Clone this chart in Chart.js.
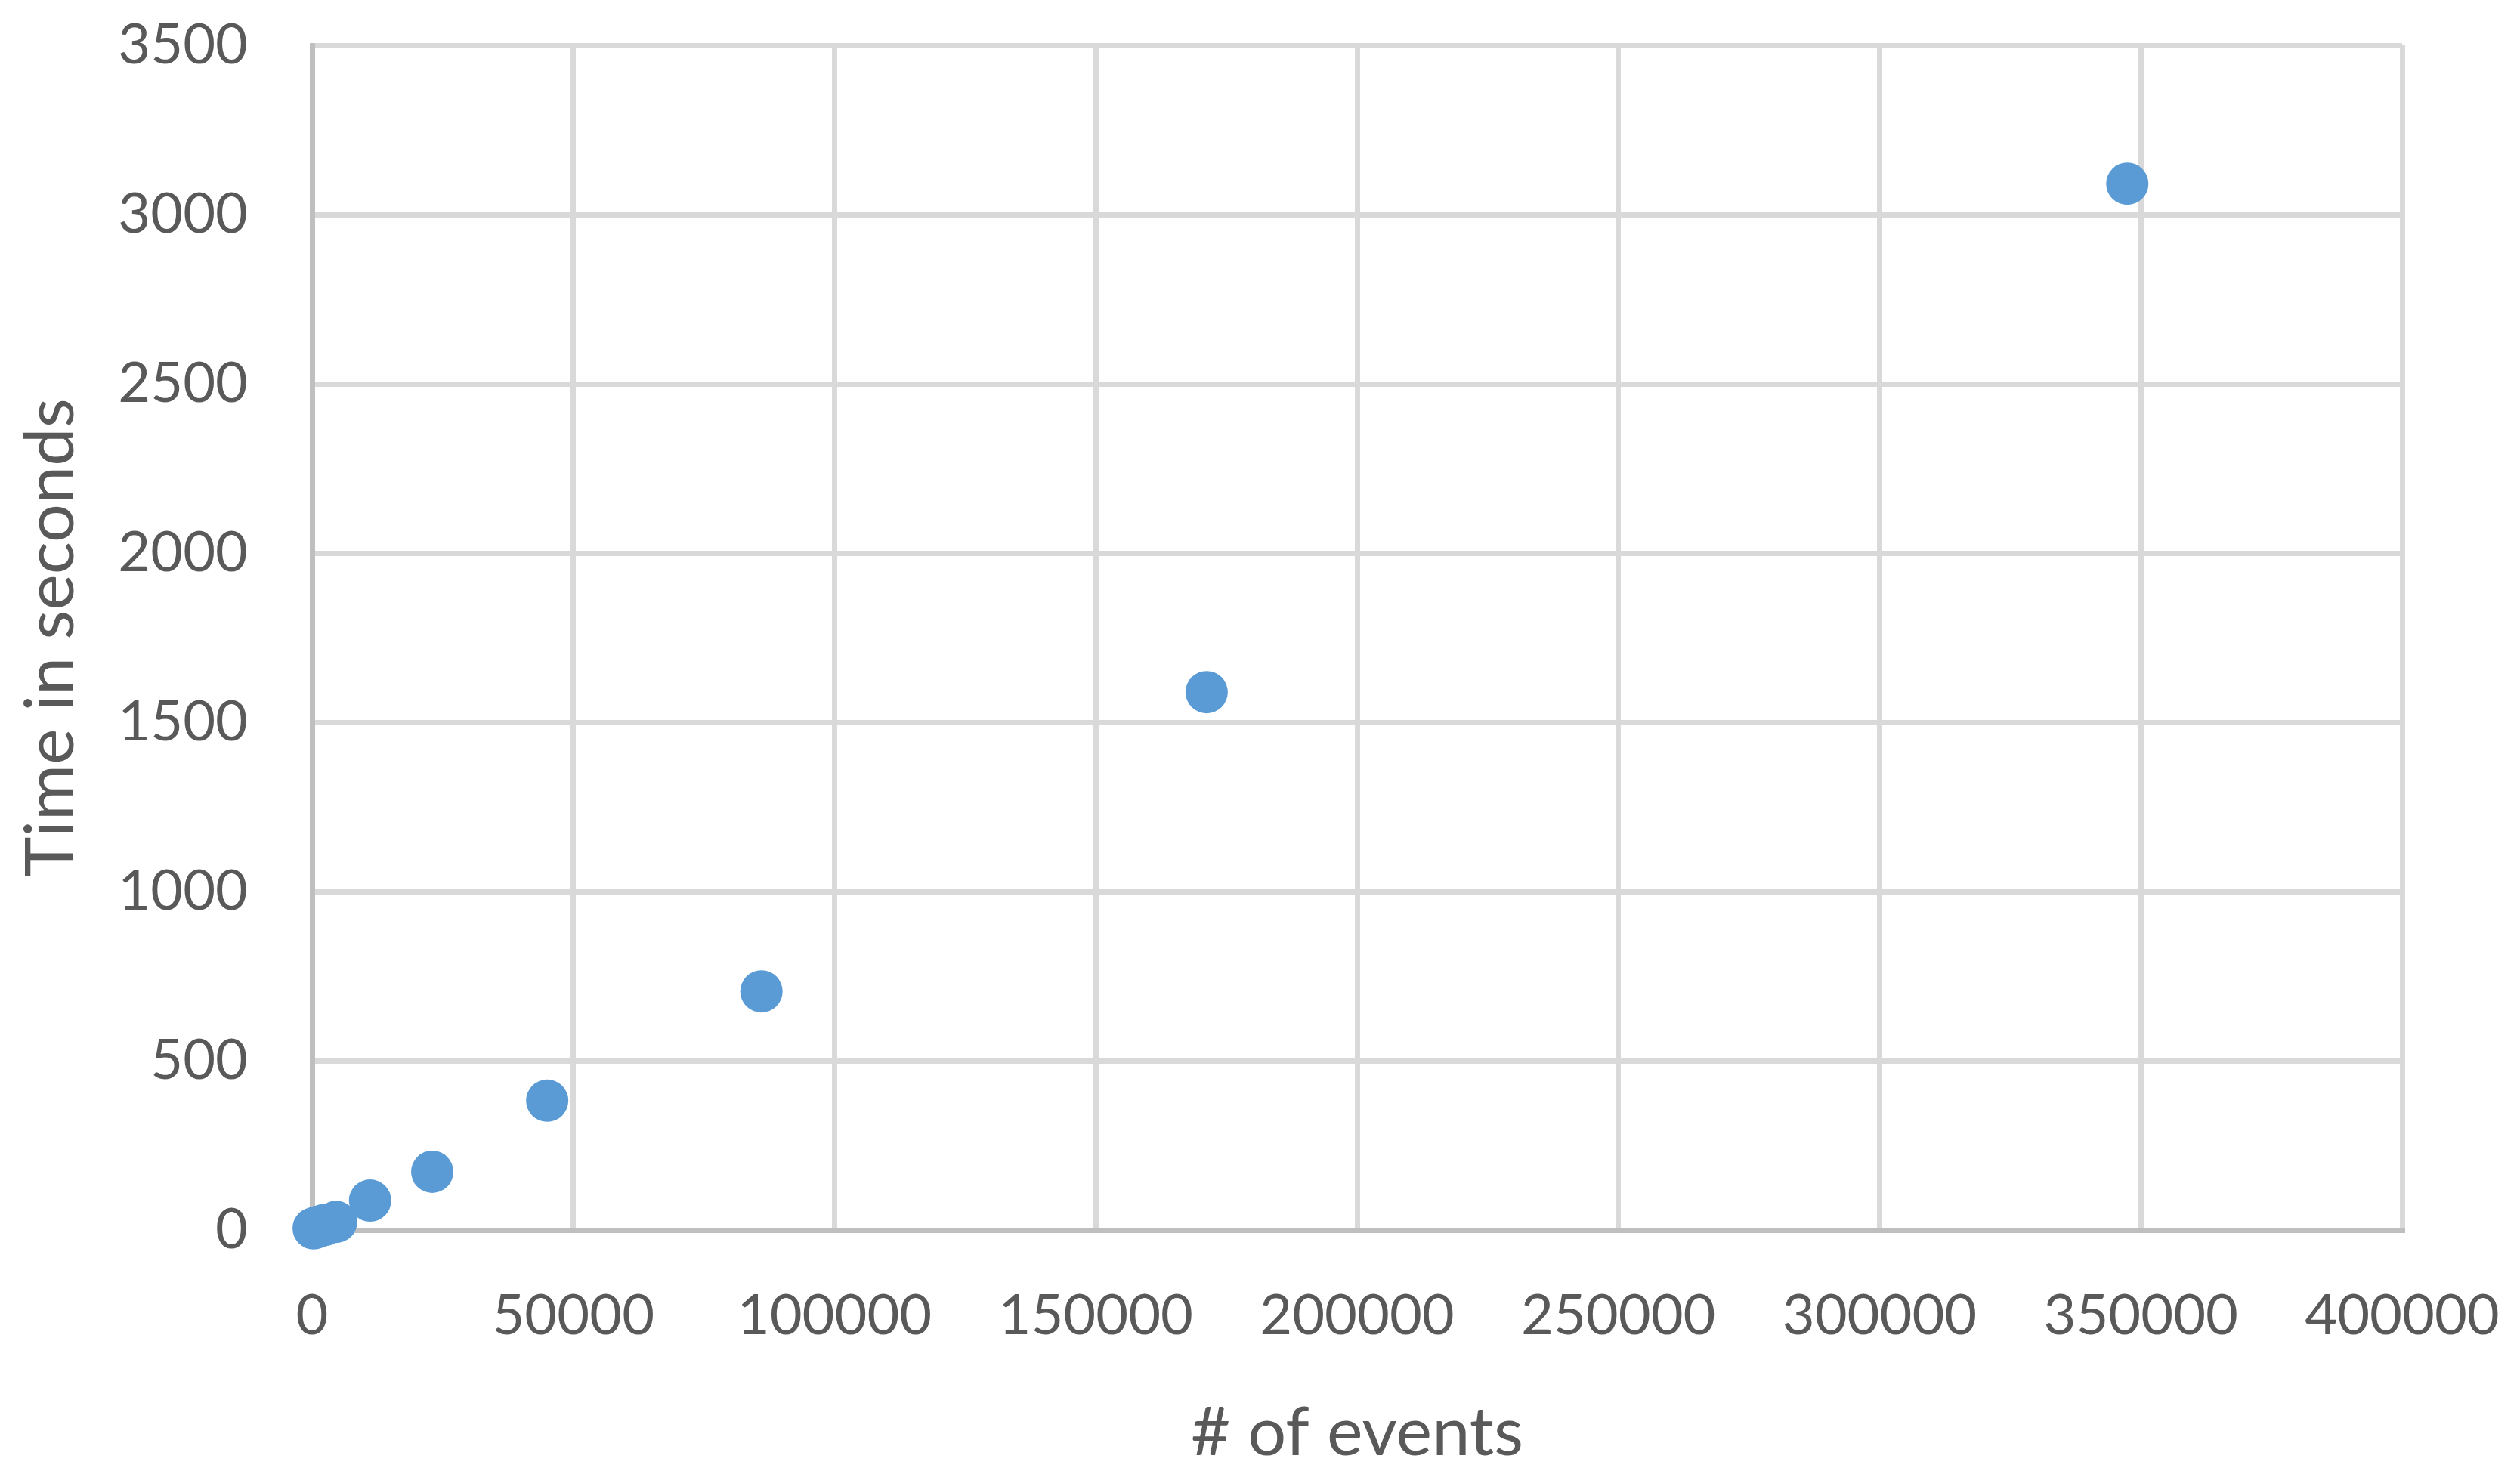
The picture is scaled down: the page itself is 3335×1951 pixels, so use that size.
<!DOCTYPE html>
<html>
<head>
<meta charset="utf-8">
<script src="https://cdn.jsdelivr.net/npm/chart.js@4.4.1/dist/chart.umd.min.js"></script>
<style>
  html, body { margin: 0; padding: 0; background: #ffffff; }
  canvas { display: block; }
</style>
</head>
<body>
<canvas id="chart" width="3335" height="1951"></canvas>
<script>
// number of events vs. run time
const events = [300, 1200, 2400, 4600, 11100, 23000, 45000, 86000, 171200, 347400];
const seconds = [5, 10, 15, 24, 87, 172, 382, 705, 1589, 3091];

const xTicks = [0, 50000, 100000, 150000, 200000, 250000, 300000, 350000, 400000];
const yTicks = [0, 500, 1000, 1500, 2000, 2500, 3000, 3500];

const xTitle = "# of events";
const yTitle = "Time in seconds";

const textColor = "#595959";
const fontFamily = "Lato, 'Open Sans', sans-serif";

const points = events.map((x, i) => ({ x: x, y: seconds[i] }));

new Chart(document.getElementById("chart"), {
  type: "scatter",
  data: {
    datasets: [
      {
        data: points,
        backgroundColor: "#5b9bd5",
        borderWidth: 0,
        pointRadius: 28,
        pointHoverRadius: 28,
        clip: false,
      },
    ],
  },
  options: {
    responsive: false,
    animation: false,
    layout: { padding: { top: 60, right: 156, bottom: 0, left: 0 } },
    plugins: {
      legend: { display: false },
      tooltip: { enabled: false },
    },
    scales: {
      x: {
        type: "linear",
        min: xTicks[0],
        max: xTicks[xTicks.length - 1],
        afterBuildTicks: (scale) => { scale.ticks = xTicks.map((v) => ({ value: v })); },
        afterFit: (scale) => {
          scale.height = 1951 - 1628;
          scale.paddingLeft = 0;
          scale.paddingRight = 0;
        },
        grid: { color: "#d9d9d9", lineWidth: 7, drawTicks: false },
        border: { color: "#bfbfbf", width: 7 },
        ticks: {
          color: textColor,
          padding: 70,
          maxRotation: 0,
          font: { family: fontFamily, size: 74 },
          callback: (v) => String(v),
        },
        title: {
          display: true,
          text: xTitle,
          color: textColor,
          padding: { top: 12, bottom: 0 },
          font: { family: fontFamily, size: 90 },
        },
      },
      y: {
        type: "linear",
        min: yTicks[0],
        max: yTicks[yTicks.length - 1],
        afterBuildTicks: (scale) => { scale.ticks = yTicks.map((v) => ({ value: v })); },
        afterFit: (scale) => {
          scale.width = 413;
          scale.paddingTop = 0;
          scale.paddingBottom = 0;
        },
        grid: { color: "#d9d9d9", lineWidth: 7, drawTicks: false },
        border: { color: "#bfbfbf", width: 7 },
        ticks: {
          color: textColor,
          padding: 85,
          font: { family: fontFamily, size: 74 },
          callback: (v) => String(v),
        },
        title: {
          display: true,
          text: yTitle,
          color: textColor,
          padding: { top: 14, bottom: 0 },
          font: { family: fontFamily, size: 90 },
        },
      },
    },
  },
});
</script>
</body>
</html>
